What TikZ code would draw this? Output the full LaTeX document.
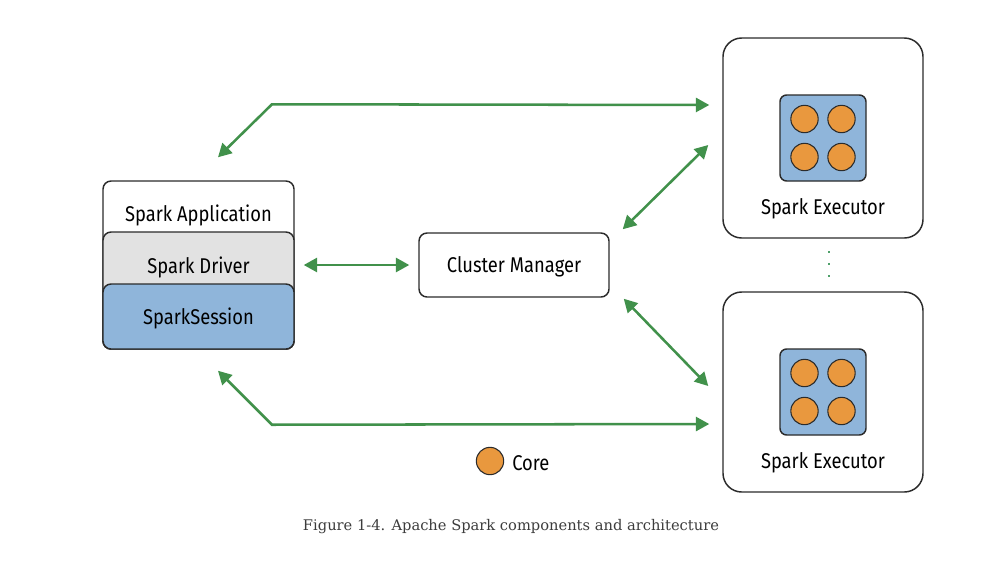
\documentclass[tikz,border=0pt]{standalone}
\usepackage{fontspec}
\setmainfont{Fira Sans}[FakeStretch=0.86]
\newfontfamily\capfont{DejaVu Serif}
\usetikzlibrary{arrows.meta,calc}
\definecolor{bordc}{HTML}{2B2B2B}
\definecolor{arrowg}{HTML}{41914B}
\definecolor{dotg}{HTML}{4FA06A}
\definecolor{bluec}{HTML}{8FB5DA}
\definecolor{drvc}{HTML}{E2E2E2}
\definecolor{corec}{HTML}{E9983E}
\definecolor{capc}{HTML}{3C3C3C}
\tikzset{
  box/.style={draw=bordc, line width=1.1pt},
  arr/.style={draw=arrowg, line width=1.9pt, {Triangle[length=10pt,width=10.5pt]}-{Triangle[length=10pt,width=10.5pt]}},
  core/.style={circle, draw=bordc, fill=corec, line width=0.8pt, minimum size=20.5pt, inner sep=0pt},
  lbl/.style={font=\fontsize{16}{19}\selectfont, text=black, inner sep=0pt},
  exbox/.style={box, rounded corners=14pt, fill=white, minimum width=150pt, minimum height=150pt},
  sq/.style={box, rounded corners=5pt, fill=bluec, minimum width=64.5pt, minimum height=64.5pt},
  dotsq/.style={fill=dotg, minimum size=2pt, inner sep=0pt},
}
\begin{document}
\begin{tikzpicture}[x=0.75pt,y=-0.75pt]
\useasboundingbox (0,0) rectangle (1000,586);
% stack
\node[box, rounded corners=6pt, fill=white, minimum width=143.25pt, minimum height=126pt] (stack) at (198.5,265) {};
\draw[box, rounded corners=6pt, fill=drvc] (103,232) rectangle (294,349);
\draw[box, rounded corners=6pt, fill=bluec] (103,284) rectangle (294,349);
\node[lbl] (app) at (198.5,215) {Spark Application};
\node[lbl] (driver) at (198.5,267) {Spark Driver};
\node[lbl] (session) at (198.5,318) {SparkSession};
% cluster manager
\node[box, rounded corners=6pt, fill=white, minimum width=142.5pt, minimum height=48pt] (cm) at (514,265) {};
\node[lbl] (cmt) at (514,267) {Cluster Manager};
% executors
\node[exbox] (ex1) at (823,138) {};
\node[sq] (sq1) at (823,138) {};
\node[core] (c11) at (804.5,119) {};
\node[core] (c12) at (841.5,119) {};
\node[core] (c13) at (804.5,157) {};
\node[core] (c14) at (841.5,157) {};
\node[lbl] (ex1t) at (823,209) {Spark Executor};
\node[exbox] (ex2) at (823,392) {};
\node[sq] (sq2) at (823,392) {};
\node[core] (c21) at (804.5,373) {};
\node[core] (c22) at (841.5,373) {};
\node[core] (c23) at (804.5,411) {};
\node[core] (c24) at (841.5,411) {};
\node[lbl] (ex2t) at (823,463) {Spark Executor};
% dots
\node[dotsq] (d1) at (829,252) {};
\node[dotsq] (d2) at (829,264) {};
\node[dotsq] (d3) at (829,276) {};
% arrows
\draw[arr] ($(stack.north)+(19.5,-23)$) -- ++(54,-53) -- ($(ex1.west)+(-13,-33)$);
\draw[arr] ($(stack.south)+(19.5,21)$) -- ++(54,54) -- ($(ex2.west)+(-13,32)$);
\draw[arr] ($(stack.east |- cm.west)+(9,0)$) -- ($(cm.west)+(-9,0)$);
\draw[arr] ($(cm.north east)+(13,-3)$) -- ($(ex1.west)+(-14,7)$);
\draw[arr] ($(cm.south east)+(14,1)$) -- ($(ex2.west)+(-14,-6)$);
% legend
\node[core] (lc) at (490,461) {};
\node[lbl, anchor=west] (lct) at (512,463) {Core};
% caption
\node[font=\capfont\fontsize{11}{13}\selectfont, text=capc, inner sep=0pt] (cap) at (511,527) {Figure 1-4. Apache Spark components and architecture};
\end{tikzpicture}
\end{document}
